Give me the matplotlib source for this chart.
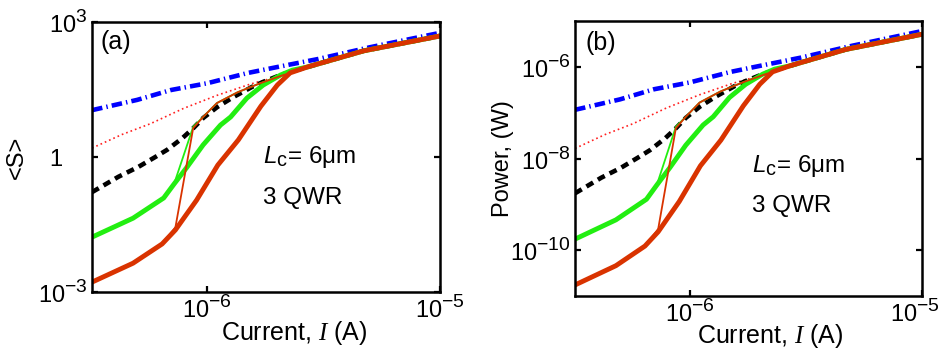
import matplotlib.pyplot as plt
import matplotlib._mathtext as mathtext_internals
from matplotlib.transforms import ScaledTranslation

plt.rcParams['font.family'] = ['Liberation Sans', 'DejaVu Sans']
plt.rcParams['mathtext.fontset'] = 'custom'
plt.rcParams['mathtext.rm'] = 'Liberation Sans'
plt.rcParams['mathtext.sf'] = 'Liberation Sans:italic'
plt.rcParams['mathtext.it'] = 'Liberation Serif:italic'
plt.rcParams['font.size'] = 17
# bigger exponents and subscripts
mathtext_internals.SHRINK_FACTOR = 0.82

# pump current in uA, mean photon number <S>
i_blue = [0.32, 0.5, 0.7, 1.0, 1.5, 2.0, 3.0, 5.0, 10.0]
s_blue = [11.0, 18.6, 30.9, 43.6, 74.1, 100, 151, 275, 575]

i_dot = [0.32, 0.43, 0.57, 0.79, 1.10, 1.53, 2.12, 2.5, 2.69, 3.5, 4.7, 10.0]
s_dot = [1.58, 3.16, 5.50, 12.0, 23.4, 41.7, 66.1, 85.1, 100, 148, 229, 490]

i_black = [0.32, 0.415, 0.506, 0.598, 0.673, 0.782, 0.871, 0.962, 1.104, 1.293,
           1.56, 1.74, 2.06, 2.27, 2.69, 3.5, 4.7, 10.0]
s_black = [0.166, 0.363, 0.603, 1.0, 1.45, 2.63, 4.37, 7.41, 12.9, 21.4,
           36.3, 46.8, 66.1, 77.6, 100, 148, 229, 490]

i_green = [0.32, 0.48, 0.65, 0.72, 0.82, 0.96, 1.14, 1.26, 1.48, 1.74, 2.06,
           2.32, 2.69, 3.5, 4.7, 10.0]
s_green = [0.0166, 0.0437, 0.123, 0.251, 0.603, 1.86, 5.13, 7.76, 20.4, 39.8,
           66.1, 85.1, 100, 148, 229, 490]

i_green_thin = [0.32, 0.48, 0.65, 0.72, 0.87, 0.96, 1.10, 1.35, 1.69, 2.12,
                2.5, 2.69, 3.5, 4.7, 10.0]
s_green_thin = [0.0166, 0.0437, 0.123, 0.251, 4.68, 7.76, 15.8, 27.5, 43.7,
                66.1, 85.1, 100, 148, 229, 490]

i_red = [0.32, 0.48, 0.64, 0.73, 0.80, 0.90, 1.11, 1.36, 1.70, 2.0, 2.27,
         2.69, 3.5, 4.7, 10.0]
s_red = [0.00166, 0.00437, 0.0117, 0.0240, 0.0468, 0.110, 0.661, 2.40, 13.5,
         39.8, 74.1, 100, 148, 229, 490]

i_red_thin = [0.32, 0.48, 0.64, 0.73, 0.87, 0.96, 1.10, 1.35, 1.69, 2.12,
              2.5, 2.69, 3.5, 4.7, 10.0]
s_red_thin = [0.00166, 0.00437, 0.0117, 0.0275, 4.37, 7.76, 15.8, 27.5, 43.7,
              66.1, 85.1, 100, 148, 229, 490]

# output power per photon in the cavity
watts_per_photon = 1.05e-8

blue = '#0000ff'
red_dot = '#ff2020'
green = '#22ee11'
red = '#d93300'


def draw(ax, k):
    ua = 1e-6
    ax.plot([x * ua for x in i_blue], [v * k for v in s_blue], color=blue,
            lw=3.3, ls=(0, (2.3, 0.9, 0.3, 0.9)))
    ax.plot([x * ua for x in i_dot], [v * k for v in s_dot], color=red_dot,
            lw=1.2, ls=(0, (1, 1.8)))
    ax.plot([x * ua for x in i_black], [v * k for v in s_black], color='k',
            lw=3.3, ls=(0, (1.7, 1.2)))
    ax.plot([x * ua for x in i_green], [v * k for v in s_green], color=green,
            lw=3.5)
    ax.plot([x * ua for x in i_green_thin], [v * k for v in s_green_thin],
            color=green, lw=1.3)
    ax.plot([x * ua for x in i_red], [v * k for v in s_red], color=red,
            lw=3.5)
    ax.plot([x * ua for x in i_red_thin], [v * k for v in s_red_thin],
            color=red, lw=1.3)
    ax.set_xscale('log')
    ax.set_yscale('log')
    ax.set_xlim(3.2e-7, 1e-5)
    ax.set_xticks([1e-6, 1e-5],
                  [r'$\mathdefault{10^{-6}}$', r'$\mathdefault{10^{-5}}$'])
    ax.minorticks_off()
    for s in ax.spines.values():
        s.set_linewidth(1.8)
    ax.tick_params(direction='in', top=True, right=True, length=4.5,
                   width=1.6, pad=3)
    ax.set_xlabel(r'Current, $\mathit{I}$ (A)', fontsize=18)
    ax.text(0.49 if k == 1 else 0.51, 0.478 if k == 1 else 0.451,
            r'$\mathsf{L}_{\mathrm{c}}$= 6μm', transform=ax.transAxes,
            va='baseline', fontsize=17.5)
    ax.text(0.49 if k == 1 else 0.51, 0.326 if k == 1 else 0.305,
            '3 QWR', transform=ax.transAxes, va='baseline', fontsize=17.5)


def nudge(label, dx, fig):
    label.set_transform(label.get_transform()
                        + ScaledTranslation(dx, 0, fig.dpi_scale_trans))


fig = plt.figure(figsize=(9.45, 3.54), dpi=100)
ax1 = fig.add_axes([0.0974, 0.1751, 0.3683, 0.7627])
ax2 = fig.add_axes([0.6085, 0.1638, 0.3672, 0.7768])

draw(ax1, 1)
ax1.set_ylim(1e-3, 1e3)
ax1.set_yticks([1e-3, 1, 1e3],
               [r'$\mathdefault{10^{-3}}$', r'$\mathdefault{1}$',
                r'$\mathdefault{10^{3}}$'])
ax1.minorticks_off()
ax1.set_ylabel('<S>')
ax1.yaxis.set_label_coords(-0.185, 0.5)
ax1.xaxis.set_label_coords(0.58, -0.10)
ax1.text(0.023, 0.97, '(a)', transform=ax1.transAxes, va='top',
         fontsize=18)

draw(ax2, watts_per_photon)
ax2.set_ylim(1e-11, 1e-5)
ax2.set_yticks([1e-10, 1e-8, 1e-6],
               [r'$\mathdefault{10^{-10}}$', r'$\mathdefault{10^{-8}}$',
                r'$\mathdefault{10^{-6}}$'])
ax2.minorticks_off()
ax2.set_ylabel('Power, (W)')
ax2.yaxis.set_label_coords(-0.175, 0.5)
ax2.xaxis.set_label_coords(0.562, -0.095)
ax2.text(0.029, 0.962, '(b)', transform=ax2.transAxes, va='top',
         fontsize=18)

# the "1" label sits further out than the powers of ten
for t in ax1.yaxis.get_major_ticks():
    if t.get_loc() == 1:
        nudge(t.label1, -0.25, fig)
# keep the last current label inside the figure
for t in ax2.xaxis.get_major_ticks():
    if t.get_loc() == 1e-5:
        nudge(t.label1, -0.07, fig)

fig.savefig('out.png', dpi=100)
